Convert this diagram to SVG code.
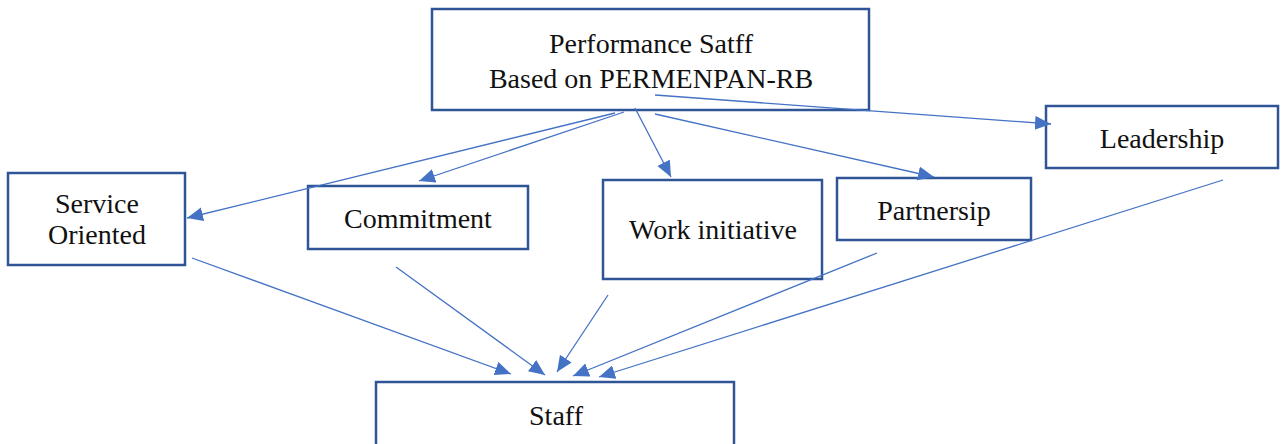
<svg xmlns="http://www.w3.org/2000/svg" width="1286" height="444" viewBox="0 0 1286 444">
  <style>
    .box { fill: #ffffff; stroke: #2f5597; stroke-width: 2.5; }
    .label { font-family: "Liberation Serif", "DejaVu Serif", serif; font-size: 28px; fill: #111111; text-anchor: middle; }
    .link { stroke: #4472c4; stroke-width: 1.3; fill: none; marker-end: url(#head); }
  </style>
  <defs>
    <marker id="head" markerUnits="userSpaceOnUse" markerWidth="17" markerHeight="15" refX="16" refY="7" orient="auto">
      <path d="M0,0 L16,7 L0,14 Z" fill="#4472c4"/>
    </marker>
  </defs>
  <rect width="1286" height="444" fill="#ffffff"/>

  <g id="performance">
    <rect class="box" x="432" y="9" width="437" height="101"/>
    <text class="label" x="651" y="53">Performance Satff</text>
    <text class="label" x="651" y="88">Based on PERMENPAN-RB</text>
  </g>
  <g id="service-oriented">
    <rect class="box" x="8" y="173" width="177" height="92"/>
    <text class="label" x="97" y="213">Service</text>
    <text class="label" x="97" y="244">Oriented</text>
  </g>
  <g id="commitment">
    <rect class="box" x="308" y="186" width="220" height="63"/>
    <text class="label" x="418" y="228">Commitment</text>
  </g>
  <g id="work-initiative">
    <rect class="box" x="603" y="180" width="219" height="99"/>
    <text class="label" x="713" y="239">Work initiative</text>
  </g>
  <g id="partnersip">
    <rect class="box" x="837" y="178" width="194" height="62"/>
    <text class="label" x="934" y="220">Partnersip</text>
  </g>
  <g id="leadership">
    <rect class="box" x="1046" y="106" width="232" height="62"/>
    <text class="label" x="1162" y="148">Leadership</text>
  </g>
  <g id="staff">
    <rect class="box" x="376" y="382" width="358" height="80"/>
    <text class="label" x="556" y="425">Staff</text>
  </g>

  <g id="connectors">
    <!-- from the top box to each factor -->
    <line class="link" x1="615" y1="113" x2="187" y2="218"/>
    <line class="link" x1="624" y1="112" x2="419" y2="181"/>
    <line class="link" x1="635" y1="108" x2="671" y2="177"/>
    <line class="link" x1="655" y1="114" x2="934" y2="177"/>
    <line class="link" x1="655" y1="95" x2="1051" y2="124"/>
    <!-- from each factor down to Staff -->
    <line class="link" x1="192" y1="258" x2="511" y2="374"/>
    <line class="link" x1="396" y1="267" x2="545" y2="375"/>
    <line class="link" x1="608" y1="295" x2="557" y2="372"/>
    <line class="link" x1="877" y1="253" x2="573" y2="376"/>
    <line class="link" x1="1223" y1="180" x2="599" y2="377"/>
  </g>
</svg>
